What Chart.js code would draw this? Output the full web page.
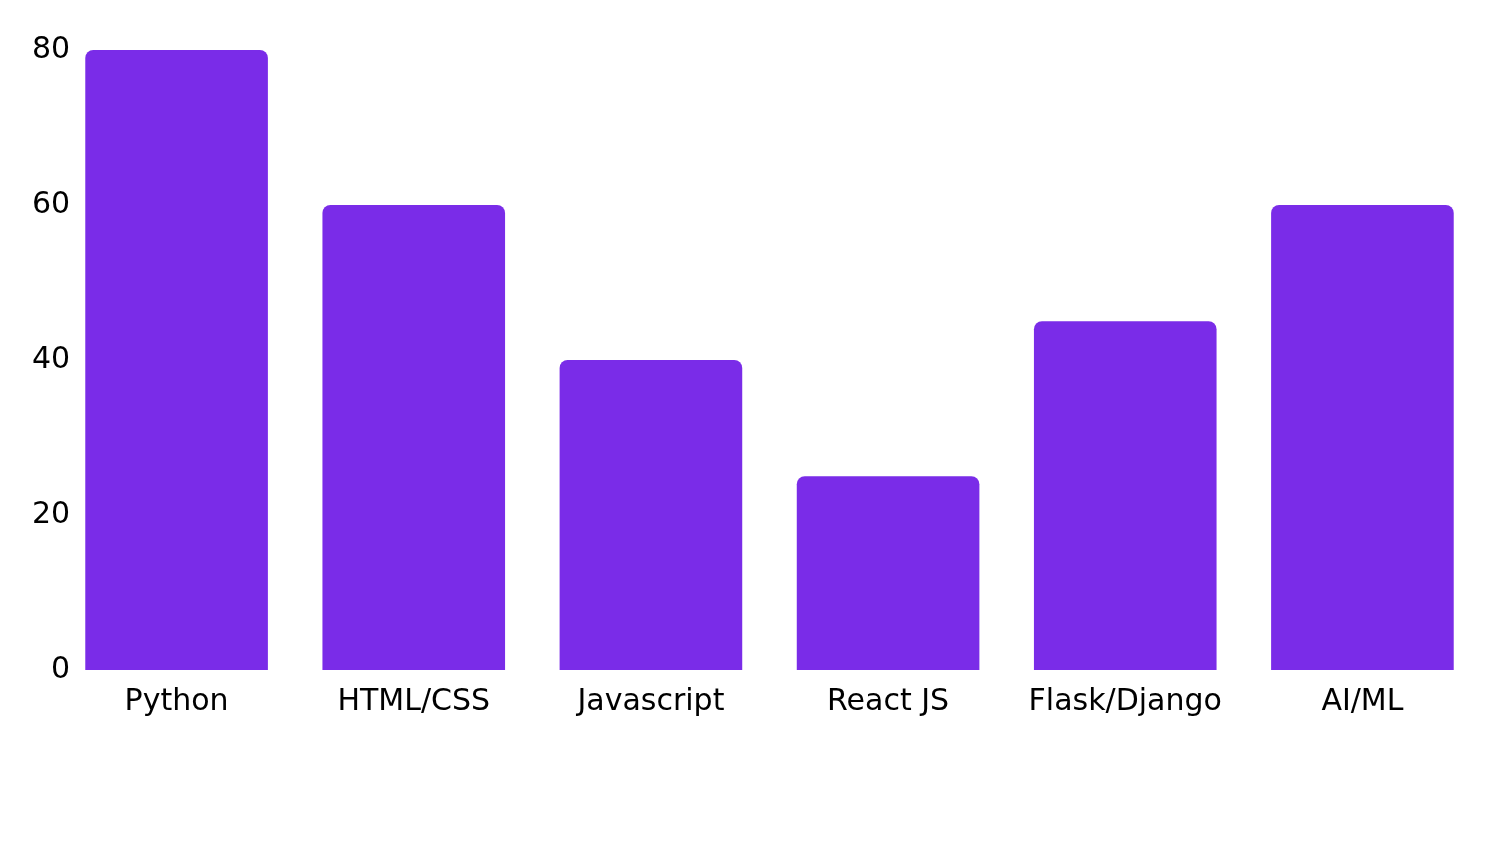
<!DOCTYPE html>
<html>
<head>
<meta charset="utf-8">
<script src="https://cdn.jsdelivr.net/npm/chart.js@4/dist/chart.umd.min.js"></script>
<style>
html,body{margin:0;padding:0;background:#fff;}
#wrap{position:absolute;left:0;top:0;width:1510px;height:850px;}
</style>
</head>
<body>
<div id="wrap"><canvas id="c" width="1510" height="850"></canvas></div>
<script>
const categories = ["Python", "HTML/CSS", "Javascript", "React JS", "Flask/Django", "AI/ML"];
const values = [80, 60, 40, 25, 45, 60];
const yTicks = [0, 20, 40, 60, 80];

const barColor = "rgb(122,44,232)";
const fontSpec = { family: "'DejaVu Sans', sans-serif", size: 30 };

new Chart(document.getElementById('c'), {
  type: 'bar',
  data: {
    labels: categories,
    datasets: [{
      data: values,
      backgroundColor: barColor,
      borderWidth: 0,
      borderRadius: { topLeft: 8, topRight: 8, bottomLeft: 0, bottomRight: 0 },
      borderSkipped: false,
      barPercentage: 0.77,
      categoryPercentage: 1.0
    }]
  },
  options: {
    responsive: false,
    animation: false,
    layout: { padding: { top: 50, right: 29, left: 0, bottom: 0 } },
    plugins: { legend: { display: false }, tooltip: { enabled: false } },
    scales: {
      x: {
        grid: { display: false, drawTicks: false },
        border: { display: false },
        ticks: { color: '#000', font: fontSpec, padding: 14, maxRotation: 0 },
        afterFit: s => { s.height = 180; }
      },
      y: {
        min: 0, max: 80,
        grid: { display: false, drawTicks: false },
        border: { display: false },
        afterBuildTicks: s => { s.ticks = yTicks.map(v => ({ value: v })); },
        ticks: { color: '#000', font: fontSpec, mirror: true, crossAlign: 'far', padding: -26 },
        afterFit: s => { s.width = 58; }
      }
    }
  }
});
</script>
</body>
</html>
